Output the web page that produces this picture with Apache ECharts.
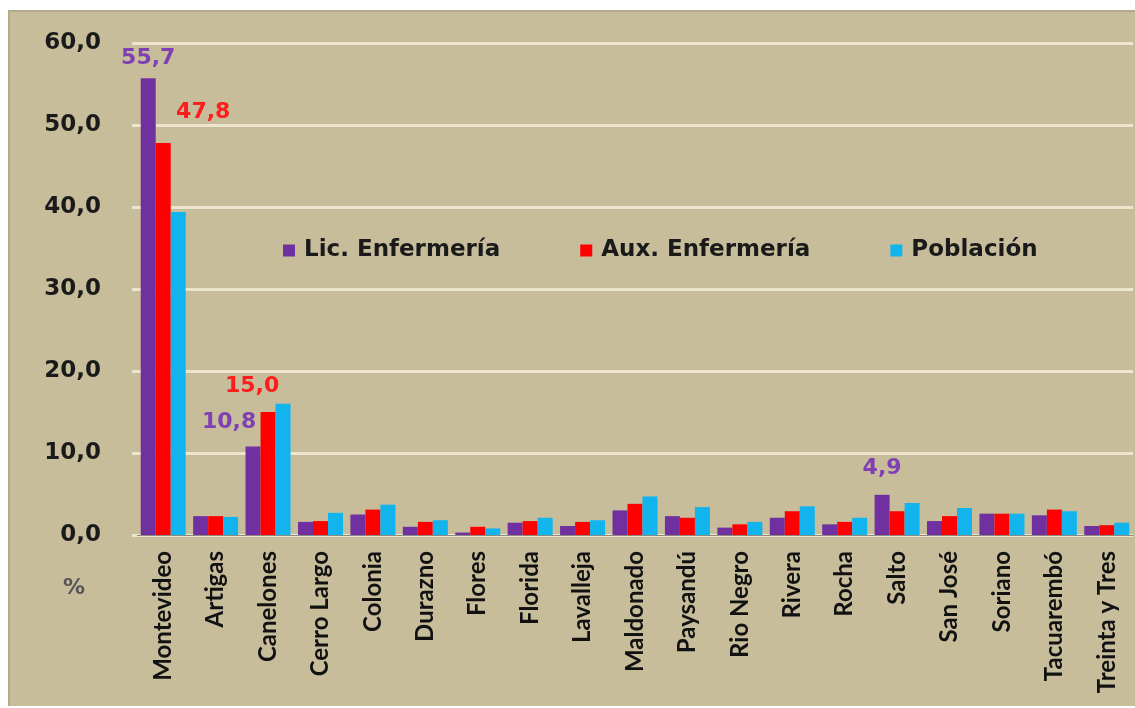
<!DOCTYPE html>
<html>
<head>
<meta charset="utf-8">
<script src="https://cdn.jsdelivr.net/npm/echarts@6/dist/echarts.min.js"></script>
<style>
  html, body { margin: 0; padding: 0; background: #ffffff; }
  #main {
    position: absolute; left: 8px; top: 10px; width: 1127px; height: 696px;
    background: #c7bd9b;
    box-shadow: inset 2px 2px 0 #b2ab8b;
  }
</style>
</head>
<body>
<div id="main"></div>
<script>
// datos por departamento (%)
var categories = ['Montevideo','Artigas','Canelones','Cerro Largo','Colonia','Durazno','Flores','Florida','Lavalleja','Maldonado','Paysandú','Rio Negro','Rivera','Rocha','Salto','San José','Soriano','Tacuarembó','Treinta y Tres'];
var licEnf = [55.7, 2.3, 10.8, 1.6, 2.5, 1.0, 0.3, 1.5, 1.1, 3.0, 2.3, 0.9, 2.1, 1.3, 4.9, 1.7, 2.6, 2.4, 1.1];
var auxEnf = [47.8, 2.3, 15.0, 1.7, 3.1, 1.6, 1.0, 1.7, 1.6, 3.8, 2.1, 1.3, 2.9, 1.6, 2.9, 2.3, 2.6, 3.1, 1.2];
var poblacion = [39.4, 2.2, 16.0, 2.7, 3.7, 1.8, 0.8, 2.1, 1.8, 4.7, 3.4, 1.6, 3.5, 2.1, 3.9, 3.3, 2.6, 2.9, 1.5];
var yTicks = [0, 10, 20, 30, 40, 50, 60];

// etiquetas que se muestran (indice -> desplazamiento)
var licLabels = { 0: [0, -4], 2: [-24, -8], 14: [0, -11] };
var auxLabels = { 0: [40, -15], 2: [-16, -10] };

function coma(v) { return v.toFixed(1).replace('.', ','); }

function conEtiquetas(values, marks, color) {
    return values.map(function (v, i) {
        if (!marks[i]) return v;
        return {
            value: v,
            label: {
                show: true,
                position: 'top',
                distance: 5,
                offset: marks[i],
                formatter: function (p) { return coma(p.value); },
                color: color,
                fontFamily: 'DejaVu Sans',
                fontWeight: 'bold',
                fontSize: 22
            }
        };
    });
}

var myChart = echarts.init(document.getElementById('main'));
var option = {
    animation: false,
    backgroundColor: 'transparent',
    textStyle: { fontFamily: 'DejaVu Sans' },
    legend: {
        data: ['Lic. Enfermería', 'Aux. Enfermería', 'Población'],
        left: 270,
        top: 224,
        itemWidth: 12,
        itemHeight: 12,
        itemGap: 80,
        icon: 'rect',
        textStyle: {
            color: '#1a1a1a',
            fontFamily: 'DejaVu Sans',
            fontWeight: 'bold',
            fontSize: 23,
            padding: [0, 0, 0, 4]
        }
    },
    grid: {
        left: 129,
        right: 2,
        top: 33,
        bottom: 171
    },
    graphic: [{
        type: 'text',
        left: 55,
        top: 567,
        style: {
            text: '%',
            fill: '#555',
            font: 'bold 22px "DejaVu Sans"'
        }
    }],
    xAxis: {
        type: 'category',
        data: categories,
        axisTick: { show: false },
        axisLine: { show: true, lineStyle: { color: '#8c8a80', width: 1 } },
        axisLabel: {
            rotate: 90,
            interval: 0,
            margin: 16,
            color: '#111',
            fontFamily: 'Lato',
            fontWeight: 'bold',
            fontSize: 24
        }
    },
    yAxis: {
        type: 'value',
        min: yTicks[0],
        max: yTicks[yTicks.length - 1],
        interval: 10,
        axisLine: { show: false },
        axisTick: { show: true, length: 5, lineStyle: { color: '#ede6cf', width: 3 } },
        splitLine: { lineStyle: { color: '#ede6cf', width: 3 } },
        axisLabel: {
            margin: 36,
            color: '#1a1a1a',
            fontFamily: 'DejaVu Sans',
            fontWeight: 'bold',
            fontSize: 23,
            formatter: function (v) { return coma(v); }
        }
    },
    series: [
        {
            name: 'Lic. Enfermería',
            type: 'bar',
            barWidth: 15,
            barGap: '0%',
            itemStyle: { color: '#7030a0' },
            data: conEtiquetas(licEnf, licLabels, '#8040b4')
        },
        {
            name: 'Aux. Enfermería',
            type: 'bar',
            barWidth: 15,
            barGap: '0%',
            itemStyle: { color: '#ff0000' },
            data: conEtiquetas(auxEnf, auxLabels, '#ff1c1c')
        },
        {
            name: 'Población',
            type: 'bar',
            barWidth: 15,
            barGap: '0%',
            itemStyle: { color: '#12b4ee' },
            data: poblacion
        }
    ]
};

myChart.setOption(option);
window.onresize = myChart.resize;
</script>
</body>
</html>
